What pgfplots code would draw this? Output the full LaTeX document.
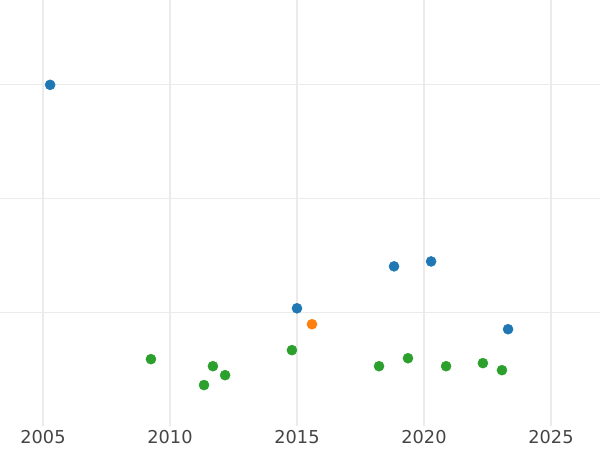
\documentclass[border=0pt]{standalone}
\usepackage{pgfplots}
\pgfplotsset{compat=1.18}
\usepackage{fontspec}
\setmainfont{DejaVu Sans}
\definecolor{tabblue}{HTML}{1F77B4}
\definecolor{taborange}{HTML}{FF7F0E}
\definecolor{tabgreen}{HTML}{2CA02C}
\definecolor{gridc}{HTML}{EBEBEB}
\definecolor{tickc}{HTML}{444444}
\begin{document}
\begin{tikzpicture}
\begin{axis}[
  name=ax,
  scale only axis,
  width=450pt, height=319.5pt,
  xmin=2003.307, xmax=2026.93,
  ymin=0, ymax=3.746,
  axis line style={draw=none},
  major tick length=0pt,
  xtick={2005,2010,2015,2020,2025},
  ytick={1,2,3},
  yticklabels={},
  xticklabel style={font=\fontsize{13.3}{16}\selectfont, text=tickc},
  /pgf/number format/1000 sep={},
  /pgf/number format/assume math mode=true,
  xmajorgrids, ymajorgrids,
  x grid style={gridc, line width=1.5pt},
  y grid style={gridc, line width=0.8pt},
  clip=false,
]
\addplot[only marks, mark=*, mark size=3.75pt, color=tabblue]
 coordinates {(2005.28,3.0) (2015.0,1.035) (2018.82,1.404) (2020.28,1.447) (2023.31,0.851)};
\addplot[only marks, mark=*, mark size=3.75pt, color=taborange]
 coordinates {(2015.59,0.895)};
\addplot[only marks, mark=*, mark size=3.75pt, color=tabgreen]
 coordinates {(2009.25,0.588) (2011.69,0.526) (2012.17,0.447) (2011.34,0.360) (2014.80,0.667)
 (2018.23,0.526) (2019.37,0.596) (2020.87,0.526) (2022.32,0.553) (2023.07,0.491)};
\end{axis}
\pgfresetboundingbox
\path (ax.south west) ++(0,-18pt) rectangle (ax.north east);
\end{tikzpicture}
\end{document}
